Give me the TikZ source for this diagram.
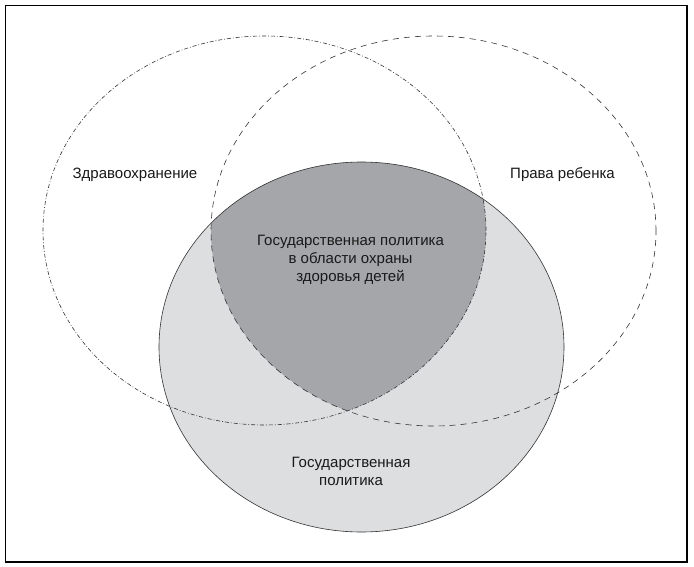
\documentclass[tikz,border=0pt]{standalone}
\usepackage{fontspec}
\setmainfont{Liberation Sans}
\begin{document}
\begin{tikzpicture}[x=1pt,y=-1pt,
  lbl/.style={font=\fontsize{15}{18}\selectfont, text=black!90, inner sep=0pt, align=center},
  outl/.style={line width=0.6pt, draw=black!80},
  dashdot/.style={outl, dash pattern=on 4pt off 2pt on 0.8pt off 2pt},
  dashlong/.style={outl, dash pattern=on 6pt off 5pt}]
\definecolor{lightfill}{RGB}{221,222,224}
\definecolor{darkfill}{RGB}{165,166,170}
\useasboundingbox (0,0) rectangle (694,567);
% frame
\draw[line width=1.2pt] (5.5,5.5) rectangle (687,562);
% state policy (solid)
\fill[lightfill] (361.5,347) ellipse [x radius=202.5pt, y radius=185pt];
% intersection of all three
\begin{scope}
  \clip (361.5,347) ellipse [x radius=202.5pt, y radius=185pt];
  \clip (264.5,230.5) ellipse [x radius=221.5pt, y radius=194.5pt];
  \fill[darkfill] (433.5,231) ellipse [x radius=222.5pt, y radius=195pt];
\end{scope}
\draw[outl] (361.5,347) ellipse [x radius=202.5pt, y radius=185pt];
% health care (dash-dot)
\draw[dashdot] (264.5,230.5) ellipse [x radius=221.5pt, y radius=194.5pt];
% rights of the child (dashed)
\draw[dashlong] (433.5,231) ellipse [x radius=222.5pt, y radius=195pt];
% labels
\node[lbl] (health) at (135,175) {Здравоохранение};
\node[lbl] (rights) at (562.5,175) {Права ребенка};
\node[lbl] (core) at (350.5,259.5) {Государственная политика\\в области охраны\\здоровья детей};
\node[lbl] (state) at (351,471) {Государственная\\политика};
\end{tikzpicture}
\end{document}
